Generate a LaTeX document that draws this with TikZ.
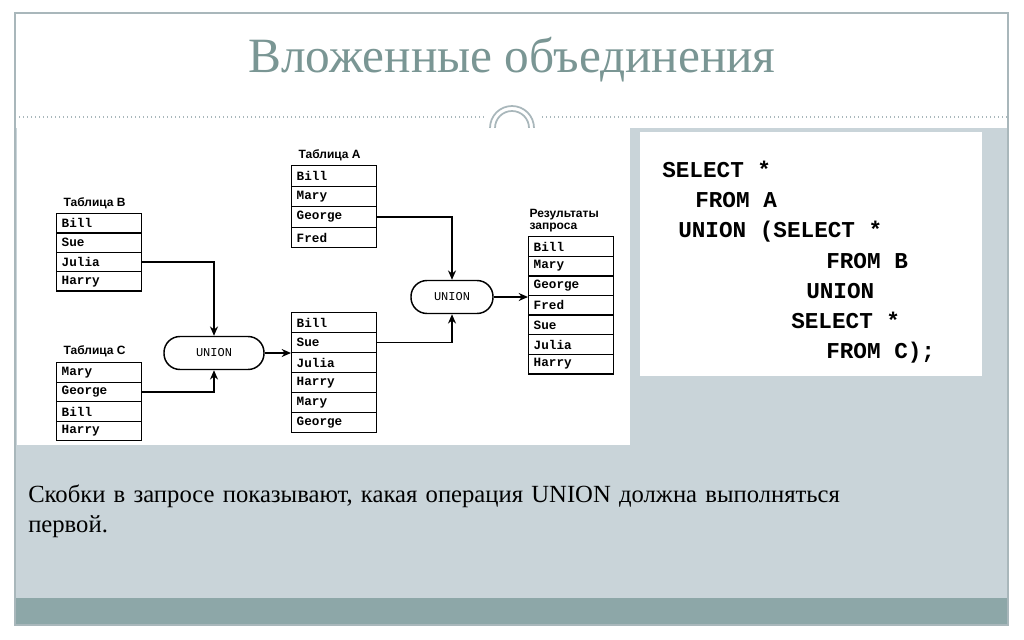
\documentclass[tikz,border=0pt]{standalone}
\usepackage{fontspec}
\setmainfont{Liberation Serif}
\newfontfamily\sansn{Liberation Sans}
\setmonofont{Liberation Mono}
\usetikzlibrary{arrows.meta}
\definecolor{bgblue}{HTML}{C9D4D9}
\definecolor{band}{HTML}{8DA7A8}
\definecolor{titlec}{HTML}{7A9694}
\definecolor{framec}{HTML}{A9B7BB}
\newlength\pxu \setlength\pxu{0.75pt}
\tikzset{
 cell/.style={draw,line width=1.1pt,minimum width=85\pxu,minimum height=19\pxu,inner sep=0pt,anchor=north west,font=\ttfamily\bfseries\fontsize{9.5}{10}\selectfont,text width=75\pxu,align=left},
 lbl/.style={font=\sansn\bfseries\fontsize{9}{9}\selectfont,anchor=south west,inner sep=1pt},
 un/.style={draw,line width=1.1pt,rounded corners=16\pxu,minimum height=33\pxu,font=\ttfamily\fontsize{9}{9}\selectfont,inner sep=0pt},
 arr/.style={line width=1.1pt,-{Stealth[length=7pt,width=6pt]}},
 code/.style={anchor=base west,font=\ttfamily\bfseries\fontsize{17}{17}\selectfont,inner sep=0pt}
}
\begin{document}
\begin{tikzpicture}[x=0.75pt,y=-0.75pt]
\useasboundingbox (0,0) rectangle (1024,639);
\fill[white] (0,0) rectangle (1024,639);
\fill[bgblue] (15,128) rectangle (1008,598);
\fill[band] (15,598) rectangle (1008,625);
\draw[framec,line width=1pt] (15,13) rectangle (1008,625);
\draw[framec,dotted,line width=1pt] (15,117) -- (488,117);
\draw[framec,dotted,line width=1pt] (538,117) -- (1008,117);
\fill[white] (486,96) rectangle (540,128);
\draw[framec,line width=1.3pt] (490,128) arc[start angle=180,end angle=360,radius=22];
\draw[framec,line width=1.3pt] (495,128) arc[start angle=180,end angle=360,radius=17];
\node[font=\fontsize{37}{37}\selectfont,text=titlec] (title) at (512,60) {Вложенные объединения};
% diagram panel
\fill[white] (17,128) rectangle (630,445);
\fill[white] (640,132) rectangle (982,376);
% tables
\foreach \n/\x/\y/\h/\list in {b/56/213/19.3/{Bill,Sue,Julia,Harry},c/56/362/19.5/{Mary,George,Bill,Harry},a/291/165/20.5/{Bill,Mary,George,Fred},m/291/312/20/{Bill,Sue,Julia,Harry,Mary,George},r/528/236/19.6/{Bill,Mary,George,Fred,Sue,Julia,Harry}}{
 \foreach \t [count=\i] in \list {
  \node[cell,minimum height=\h\pxu] (\n\i) at (\x,{\y+(\i-1)*\h}) {\t};
 }
}
\node[lbl] (lb) at (62,210) {Таблица В};
\node[lbl] (lc) at (62,358) {Таблица С};
\node[lbl] (la) at (297,162) {Таблица А};
\node[lbl,align=left] (lr) at (528,234) {Результаты\\запроса};
\node[un,minimum width=100\pxu] (u1) at (214,353) {UNION};
\node[un,minimum width=82\pxu] (u2) at (452,297) {UNION};
\draw[arr] (b3.east) -| (u1.north);
\draw[arr] (c2.east) -| (u1.south);
\draw[arr] (u1.east) -- (m2.west|-u1.east);
\draw[arr] (a3.east) -| (u2.north);
\draw[arr] (m2.east) -| (u2.south);
\draw[arr] (u2.east) -- (r4.west|-u2.east);
% code
\node[code] (k1) at (662,177) {SELECT *};
\node[code] (k2) at (695,207) {FROM A};
\node[code] (k3) at (678,237) {UNION (SELECT *};
\node[code] (k4) at (826,268) {FROM B};
\node[code] (k5) at (806,298) {UNION};
\node[code] (k6) at (791,328) {SELECT *};
\node[code] (k7) at (826,358) {FROM C);};
\node[anchor=base west,inner sep=0pt,font=\fontsize{18.5}{23}\selectfont,align=left,text width=720pt] (note) at (28,502) {Скобки в запросе показывают, какая операция UNION должна выполняться\\первой.};
\end{tikzpicture}
\end{document}
